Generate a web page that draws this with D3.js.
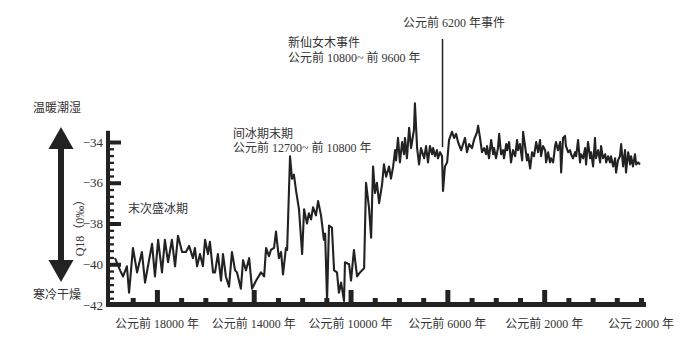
<!DOCTYPE html>
<html>
<head>
<meta charset="utf-8">
<script src="https://cdn.jsdelivr.net/npm/d3@7"></script>
<style>
  body { margin: 0; background: #fff; }
  svg { display: block; }
  text { font-family: "Liberation Serif", "Noto Sans CJK SC", serif; fill: #333; font-size: 12px; }
</style>
</head>
<body>
<svg id="chart" width="690" height="341"></svg>
<script>
// years (negative = BC), oxygen isotope value
var years = [
  -19730, -19520, -19400, -19240, -19150, -18990, -18820, -18620, -18490, -18370,
  -18200, -18080, -17950, -17790, -17670, -17540, -17380, -17250, -17130, -16960,
  -16800, -16670, -16510, -16430, -16340, -16220, -16100, -16010, -15890, -15810,
  -15680, -15600, -15480, -15350, -15270, -15150, -15020, -14900, -14770, -14690,
  -14530, -14440, -14320, -14190, -14070, -13900, -13700, -13570, -13490, -13370,
  -13290, -13160, -13080, -12960, -12870, -12790, -12670, -12620, -12500, -12420,
  -12340, -12250, -12130, -12000, -11920, -11800, -11720, -11630, -11550, -11430,
  -11340, -11220, -11100, -11050, -10970, -10890, -10770, -10680, -10560, -10480,
  -10390, -10270, -10230, -10060, -9980, -9860, -9730, -9610, -9440, -9360,
  -9240, -9150, -9070, -8990, -8910, -8820, -8700, -8620, -8530, -8410,
  -8330, -8240, -8160, -8120, -8040, -7960, -7870, -7790, -7750, -7670,
  -7580, -7500, -7380, -7340, -7250, -7170, -7090, -6960, -6880, -6800,
  -6720, -6630, -6590, -6510, -6430, -6390, -6300, -6220, -6180, -6100,
  -6010, -5930, -5810, -5720, -5640, -5560, -5430, -5350, -5270, -5190,
  -5100, -4980, -4900, -4770, -4730, -4650, -4570, -4480, -4400, -4360,
  -4280, -4190, -4110, -4070, -3990, -3910, -3860, -3780, -3700, -3660,
  -3570, -3530, -3450, -3370, -3290, -3200, -3120, -3080, -3000, -2910,
  -2870, -2790, -2710, -2670, -2580, -2500, -2420, -2330, -2250, -2170,
  -2130, -2050, -1960, -1920, -1840, -1760, -1720, -1630, -1550, -1510,
  -1430, -1340, -1300, -1220, -1140, -1100, -1010, -930, -890, -810,
  -720, -680, -600, -520, -480, -390, -310, -270, -190, -100,
  -60, 20, 100, 140, 230, 310, 350, 430, 520, 560,
  640, 720, 760, 850, 930, 970, 1050, 1130, 1180, 1260,
  1340, 1380, 1470, 1550, 1590, 1670, 1750, 1800, 1880, 1960
];
var d18o = [
  -39.7, -40.3, -40.6, -40.1, -41.4, -39.2, -40.4, -39.4, -40.9, -40.1,
  -39.0, -40.6, -38.8, -40.4, -38.8, -39.9, -38.8, -40.1, -38.6, -39.4,
  -39.4, -39.1, -39.7, -39.2, -40.1, -39.5, -40.1, -38.8, -39.5, -38.9,
  -40.4, -40.4, -39.5, -40.8, -39.5, -40.6, -41.1, -39.4, -40.3, -40.4,
  -41.2, -39.8, -40.3, -39.7, -41.2, -40.8, -40.4, -40.6, -39.2, -39.6,
  -39.3, -39.2, -38.4, -39.7, -39.4, -40.5, -39.2, -39.3, -34.7, -35.8,
  -35.6, -36.4, -37.3, -39.5, -37.3, -38.0, -37.5, -37.8, -37.2, -37.6,
  -36.9, -37.6, -38.8, -38.5, -41.8, -38.1, -38.2, -40.3, -40.4, -41.4,
  -40.9, -41.8, -39.9, -40.0, -40.8, -39.3, -40.6, -40.4, -40.2, -36.0,
  -37.2, -38.7, -35.2, -36.5, -36.0, -37.0, -36.1, -35.1, -35.7, -35.2,
  -35.8, -35.2, -34.4, -34.9, -33.8, -35.0, -34.0, -34.6, -33.8, -34.8,
  -33.3, -34.3, -33.4, -32.1, -34.3, -35.1, -34.3, -34.8, -34.2, -35.0,
  -34.2, -34.6, -34.3, -34.7, -34.4, -34.8, -34.5, -34.7, -36.4, -35.2,
  -35.0, -33.9, -33.5, -33.8, -33.6, -34.0, -34.4, -34.1, -33.8, -34.5,
  -34.1, -34.3, -33.9, -33.5, -33.2, -33.8, -34.5, -34.3, -34.6, -34.2,
  -34.8, -33.9, -34.6, -34.3, -34.8, -34.3, -33.6, -34.6, -34.4, -34.8,
  -34.1, -34.4, -34.0, -35.0, -34.4, -34.7, -33.9, -34.4, -34.1, -34.9,
  -33.5, -34.2, -34.9, -34.6, -35.3, -34.5, -34.7, -34.0, -34.5, -33.9,
  -34.7, -34.2, -34.4, -35.0, -34.5, -35.0, -34.8, -35.0, -34.2, -34.0,
  -34.4, -34.0, -35.5, -33.8, -33.7, -34.2, -34.5, -34.4, -34.6, -34.8,
  -34.5, -34.7, -33.9, -35.0, -34.6, -34.8, -34.3, -35.1, -34.0, -34.8,
  -34.5, -35.2, -33.8, -34.8, -34.4, -35.0, -34.2, -34.8, -34.6, -35.0,
  -34.7, -35.0, -34.7, -35.2, -34.8, -35.5, -34.9, -34.7, -34.1, -35.2,
  -34.4, -35.5, -34.5, -35.1, -34.7, -35.2, -34.6, -35.1, -35.0, -35.1
];

var yMajorTicks = [-42, -40, -38, -36, -34];
var xMajorTicks = [-18000, -14000, -10000, -6000, -2000];
var xLabelYears = [-18000, -14000, -10000, -6000, -2000, 2000];
var xLabels = ["公元前 18000 年", "公元前 14000 年", "公元前 10000 年", "公元前 6000 年", "公元前 2000 年", "公元 2000 年"];
var eventYear = -6200;
var eventValue = -34.25;

var svg = d3.select("#chart");

var x = d3.scaleLinear().domain([-20000, 2000]).range([108.5, 641]);
var y = d3.scaleLinear().domain([-42, -34]).range([305, 142]);

// left axis bar + comb ticks
svg.append("rect")
  .attr("x", 106).attr("y", y(-33.45))
  .attr("width", 4).attr("height", 307 - y(-33.45))
  .attr("fill", "#222");

var yMinor = d3.range(1, 25).map(function (i) { return -42 + i / 3; })
  .filter(function (v) { return Math.abs(v - Math.round(v / 2) * 2) > 0.01; });

var gy = svg.append("g").attr("transform", "translate(110,0)");
gy.call(d3.axisLeft(y).tickValues(yMinor).tickSize(-4).tickSizeOuter(0).tickFormat(""))
  .call(function (g) { g.select(".domain").remove(); })
  .call(function (g) { g.selectAll(".tick line").attr("stroke", "#222").attr("stroke-width", 2.3); });

var gy2 = svg.append("g").attr("transform", "translate(110,0)");
gy2.call(d3.axisLeft(y).tickValues(yMajorTicks).tickSize(-11).tickSizeOuter(0).tickPadding(7)
    .tickFormat(function (d) { return "\u2212" + Math.abs(d); }))
  .call(function (g) { g.select(".domain").remove(); })
  .call(function (g) { g.selectAll(".tick line").attr("stroke", "#222").attr("stroke-width", 4); })
  .call(function (g) {
    g.selectAll(".tick text")
      .style("font-family", "'Liberation Serif', serif")
      .style("font-size", "13px")
      .attr("fill", "#333");
  });
gy2.selectAll(".tick").filter(function (d) { return d === -42; }).select("line").remove();

// bottom axis bar + ticks
svg.append("rect")
  .attr("x", 106).attr("y", 302)
  .attr("width", 540).attr("height", 5)
  .attr("fill", "#222");

var xMinor = d3.range(-19000, 2001, 1000).filter(function (v) { return xMajorTicks.indexOf(v) < 0; });

svg.append("g").attr("transform", "translate(0,302)")
  .call(d3.axisBottom(x).tickValues(xMinor).tickSize(-4).tickSizeOuter(0).tickFormat(""))
  .call(function (g) { g.select(".domain").remove(); })
  .call(function (g) { g.selectAll(".tick line").attr("stroke", "#222").attr("stroke-width", 5); });

svg.append("g").attr("transform", "translate(0,302)")
  .call(d3.axisBottom(x).tickValues(xMajorTicks).tickSize(-12).tickSizeOuter(0).tickFormat(""))
  .call(function (g) { g.select(".domain").remove(); })
  .call(function (g) { g.selectAll(".tick line").attr("stroke", "#222").attr("stroke-width", 5); });

svg.append("g").selectAll("text")
  .data(xLabelYears)
  .enter().append("text")
  .attr("x", function (d) { return x(d); })
  .attr("y", 328)
  .attr("text-anchor", "middle")
  .text(function (d, i) { return xLabels[i]; });

// data line
var line = d3.line()
  .x(function (d, i) { return x(years[i]); })
  .y(function (d) { return y(d); });

svg.append("path")
  .datum(d18o)
  .attr("fill", "none")
  .attr("stroke", "#222")
  .attr("stroke-width", 2.1)
  .attr("stroke-linejoin", "round")
  .attr("d", line);

// 6200 BC event marker
svg.append("line")
  .attr("x1", x(eventYear)).attr("x2", x(eventYear))
  .attr("y1", 39).attr("y2", y(eventValue))
  .attr("stroke", "#222").attr("stroke-width", 1.5);

// y title
svg.append("text")
  .attr("transform", "translate(84,225) rotate(-90)")
  .attr("text-anchor", "middle")
  .text("Q18（0‰）");

// double arrow
var ax = 61;
svg.append("line")
  .attr("x1", ax).attr("x2", ax).attr("y1", 146).attr("y2", 263)
  .attr("stroke", "#222").attr("stroke-width", 6);
svg.append("path")
  .attr("d", "M" + ax + ",127 L" + (ax + 12.5) + ",149 L" + (ax - 12.5) + ",149 Z")
  .attr("fill", "#222");
svg.append("path")
  .attr("d", "M" + ax + ",282 L" + (ax + 12.5) + ",260 L" + (ax - 12.5) + ",260 Z")
  .attr("fill", "#222");

// notes
var notes = [
  { t: "温暖潮湿", x: 57, y: 112, a: "middle" },
  { t: "寒冷干燥", x: 57, y: 299, a: "middle" },
  { t: "末次盛冰期", x: 128, y: 213, a: "start" },
  { t: "间冰期末期", x: 233, y: 138, a: "start" },
  { t: "公元前 12700~ 前 10800 年", x: 233, y: 152, a: "start" },
  { t: "新仙女木事件", x: 288, y: 47, a: "start" },
  { t: "公元前 10800~ 前 9600 年", x: 288, y: 62, a: "start" },
  { t: "公元前 6200 年事件", x: 403, y: 27, a: "start" }
];
svg.append("g").selectAll("text")
  .data(notes)
  .enter().append("text")
  .attr("x", function (d) { return d.x; })
  .attr("y", function (d) { return d.y; })
  .attr("text-anchor", function (d) { return d.a; })
  .text(function (d) { return d.t; });
</script>
</body>
</html>
